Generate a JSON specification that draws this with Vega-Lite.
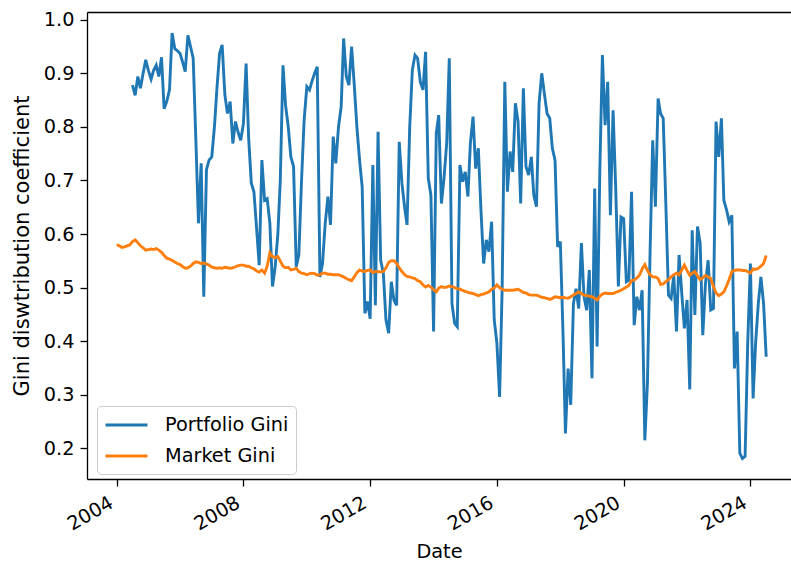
{
"$schema": "https://vega.github.io/schema/vega-lite/v6.json",
"width": 704, "height": 467,
"autosize": {"type": "none"},
"padding": {"left": 87, "top": 12, "right": 0, "bottom": 86},
"background": "white",
"config": {"font": "DejaVu Sans", "view": {"stroke": null}},
"data": {"values": [
{"date":"2004-01-01","Portfolio Gini":null,"Market Gini":0.580},
{"date":"2004-02-01","Portfolio Gini":null,"Market Gini":0.578},
{"date":"2004-03-01","Portfolio Gini":null,"Market Gini":0.575},
{"date":"2004-04-01","Portfolio Gini":null,"Market Gini":0.576},
{"date":"2004-05-01","Portfolio Gini":null,"Market Gini":0.578},
{"date":"2004-06-01","Portfolio Gini":null,"Market Gini":0.580},
{"date":"2004-07-01","Portfolio Gini":0.878,"Market Gini":0.586},
{"date":"2004-08-01","Portfolio Gini":0.859,"Market Gini":0.589},
{"date":"2004-09-01","Portfolio Gini":0.894,"Market Gini":0.584},
{"date":"2004-10-01","Portfolio Gini":0.872,"Market Gini":0.578},
{"date":"2004-11-01","Portfolio Gini":0.900,"Market Gini":0.574},
{"date":"2004-12-01","Portfolio Gini":0.925,"Market Gini":0.570},
{"date":"2005-01-01","Portfolio Gini":0.905,"Market Gini":0.571},
{"date":"2005-02-01","Portfolio Gini":0.889,"Market Gini":0.572},
{"date":"2005-03-01","Portfolio Gini":0.905,"Market Gini":0.571},
{"date":"2005-04-01","Portfolio Gini":0.915,"Market Gini":0.573},
{"date":"2005-05-01","Portfolio Gini":0.894,"Market Gini":0.570},
{"date":"2005-06-01","Portfolio Gini":0.930,"Market Gini":0.566},
{"date":"2005-07-01","Portfolio Gini":0.834,"Market Gini":0.560},
{"date":"2005-08-01","Portfolio Gini":0.848,"Market Gini":0.555},
{"date":"2005-09-01","Portfolio Gini":0.869,"Market Gini":0.553},
{"date":"2005-10-01","Portfolio Gini":0.975,"Market Gini":0.551},
{"date":"2005-11-01","Portfolio Gini":0.946,"Market Gini":0.548},
{"date":"2005-12-01","Portfolio Gini":0.942,"Market Gini":0.545},
{"date":"2006-01-01","Portfolio Gini":0.937,"Market Gini":0.543},
{"date":"2006-02-01","Portfolio Gini":0.920,"Market Gini":0.539},
{"date":"2006-03-01","Portfolio Gini":0.903,"Market Gini":0.536},
{"date":"2006-04-01","Portfolio Gini":0.971,"Market Gini":0.537},
{"date":"2006-05-01","Portfolio Gini":0.950,"Market Gini":0.540},
{"date":"2006-06-01","Portfolio Gini":0.928,"Market Gini":0.545},
{"date":"2006-07-01","Portfolio Gini":0.780,"Market Gini":0.548},
{"date":"2006-08-01","Portfolio Gini":0.620,"Market Gini":0.547},
{"date":"2006-09-01","Portfolio Gini":0.732,"Market Gini":0.545},
{"date":"2006-10-01","Portfolio Gini":0.483,"Market Gini":0.546},
{"date":"2006-11-01","Portfolio Gini":0.720,"Market Gini":0.544},
{"date":"2006-12-01","Portfolio Gini":0.738,"Market Gini":0.542},
{"date":"2007-01-01","Portfolio Gini":0.744,"Market Gini":0.538},
{"date":"2007-02-01","Portfolio Gini":0.800,"Market Gini":0.537},
{"date":"2007-03-01","Portfolio Gini":0.870,"Market Gini":0.536},
{"date":"2007-04-01","Portfolio Gini":0.937,"Market Gini":0.537},
{"date":"2007-05-01","Portfolio Gini":0.953,"Market Gini":0.536},
{"date":"2007-06-01","Portfolio Gini":0.860,"Market Gini":0.538},
{"date":"2007-07-01","Portfolio Gini":0.825,"Market Gini":0.537},
{"date":"2007-08-01","Portfolio Gini":0.847,"Market Gini":0.536},
{"date":"2007-09-01","Portfolio Gini":0.769,"Market Gini":0.537},
{"date":"2007-10-01","Portfolio Gini":0.810,"Market Gini":0.539},
{"date":"2007-11-01","Portfolio Gini":0.790,"Market Gini":0.541},
{"date":"2007-12-01","Portfolio Gini":0.775,"Market Gini":0.542},
{"date":"2008-01-01","Portfolio Gini":0.806,"Market Gini":0.542},
{"date":"2008-02-01","Portfolio Gini":0.918,"Market Gini":0.540},
{"date":"2008-03-01","Portfolio Gini":0.780,"Market Gini":0.540},
{"date":"2008-04-01","Portfolio Gini":0.695,"Market Gini":0.537},
{"date":"2008-05-01","Portfolio Gini":0.679,"Market Gini":0.535},
{"date":"2008-06-01","Portfolio Gini":0.610,"Market Gini":0.531},
{"date":"2008-07-01","Portfolio Gini":0.542,"Market Gini":0.529},
{"date":"2008-08-01","Portfolio Gini":0.738,"Market Gini":0.533},
{"date":"2008-09-01","Portfolio Gini":0.663,"Market Gini":0.527},
{"date":"2008-10-01","Portfolio Gini":0.666,"Market Gini":0.540},
{"date":"2008-11-01","Portfolio Gini":0.620,"Market Gini":0.565},
{"date":"2008-12-01","Portfolio Gini":0.502,"Market Gini":0.558},
{"date":"2009-01-01","Portfolio Gini":0.539,"Market Gini":0.556},
{"date":"2009-02-01","Portfolio Gini":0.600,"Market Gini":0.558},
{"date":"2009-03-01","Portfolio Gini":0.700,"Market Gini":0.550},
{"date":"2009-04-01","Portfolio Gini":0.915,"Market Gini":0.540},
{"date":"2009-05-01","Portfolio Gini":0.840,"Market Gini":0.537},
{"date":"2009-06-01","Portfolio Gini":0.800,"Market Gini":0.538},
{"date":"2009-07-01","Portfolio Gini":0.744,"Market Gini":0.533},
{"date":"2009-08-01","Portfolio Gini":0.726,"Market Gini":0.534},
{"date":"2009-09-01","Portfolio Gini":0.539,"Market Gini":0.536},
{"date":"2009-10-01","Portfolio Gini":0.561,"Market Gini":0.530},
{"date":"2009-11-01","Portfolio Gini":0.700,"Market Gini":0.527},
{"date":"2009-12-01","Portfolio Gini":0.813,"Market Gini":0.526},
{"date":"2010-01-01","Portfolio Gini":0.875,"Market Gini":0.524},
{"date":"2010-02-01","Portfolio Gini":0.869,"Market Gini":0.526},
{"date":"2010-03-01","Portfolio Gini":0.885,"Market Gini":0.527},
{"date":"2010-04-01","Portfolio Gini":0.900,"Market Gini":0.526},
{"date":"2010-05-01","Portfolio Gini":0.912,"Market Gini":0.523},
{"date":"2010-06-01","Portfolio Gini":0.520,"Market Gini":0.524},
{"date":"2010-07-01","Portfolio Gini":0.545,"Market Gini":0.527},
{"date":"2010-08-01","Portfolio Gini":0.620,"Market Gini":0.527},
{"date":"2010-09-01","Portfolio Gini":0.670,"Market Gini":0.525},
{"date":"2010-10-01","Portfolio Gini":0.617,"Market Gini":0.525},
{"date":"2010-11-01","Portfolio Gini":0.782,"Market Gini":0.524},
{"date":"2010-12-01","Portfolio Gini":0.732,"Market Gini":0.524},
{"date":"2011-01-01","Portfolio Gini":0.800,"Market Gini":0.524},
{"date":"2011-02-01","Portfolio Gini":0.838,"Market Gini":0.522},
{"date":"2011-03-01","Portfolio Gini":0.965,"Market Gini":0.520},
{"date":"2011-04-01","Portfolio Gini":0.894,"Market Gini":0.517},
{"date":"2011-05-01","Portfolio Gini":0.878,"Market Gini":0.515},
{"date":"2011-06-01","Portfolio Gini":0.950,"Market Gini":0.513},
{"date":"2011-07-01","Portfolio Gini":0.880,"Market Gini":0.520},
{"date":"2011-08-01","Portfolio Gini":0.800,"Market Gini":0.528},
{"date":"2011-09-01","Portfolio Gini":0.738,"Market Gini":0.533},
{"date":"2011-10-01","Portfolio Gini":0.688,"Market Gini":0.531},
{"date":"2011-11-01","Portfolio Gini":0.452,"Market Gini":0.530},
{"date":"2011-12-01","Portfolio Gini":0.474,"Market Gini":0.532},
{"date":"2012-01-01","Portfolio Gini":0.442,"Market Gini":0.533},
{"date":"2012-02-01","Portfolio Gini":0.729,"Market Gini":0.528},
{"date":"2012-03-01","Portfolio Gini":0.467,"Market Gini":0.530},
{"date":"2012-04-01","Portfolio Gini":0.791,"Market Gini":0.530},
{"date":"2012-05-01","Portfolio Gini":0.551,"Market Gini":0.529},
{"date":"2012-06-01","Portfolio Gini":0.527,"Market Gini":0.530},
{"date":"2012-07-01","Portfolio Gini":0.440,"Market Gini":0.537},
{"date":"2012-08-01","Portfolio Gini":0.415,"Market Gini":0.547},
{"date":"2012-09-01","Portfolio Gini":0.511,"Market Gini":0.550},
{"date":"2012-10-01","Portfolio Gini":0.477,"Market Gini":0.550},
{"date":"2012-11-01","Portfolio Gini":0.467,"Market Gini":0.545},
{"date":"2012-12-01","Portfolio Gini":0.772,"Market Gini":0.537},
{"date":"2013-01-01","Portfolio Gini":0.695,"Market Gini":0.530},
{"date":"2013-02-01","Portfolio Gini":0.650,"Market Gini":0.524},
{"date":"2013-03-01","Portfolio Gini":0.617,"Market Gini":0.521},
{"date":"2013-04-01","Portfolio Gini":0.800,"Market Gini":0.520},
{"date":"2013-05-01","Portfolio Gini":0.906,"Market Gini":0.518},
{"date":"2013-06-01","Portfolio Gini":0.934,"Market Gini":0.517},
{"date":"2013-07-01","Portfolio Gini":0.928,"Market Gini":0.513},
{"date":"2013-08-01","Portfolio Gini":0.884,"Market Gini":0.511},
{"date":"2013-09-01","Portfolio Gini":0.869,"Market Gini":0.505},
{"date":"2013-10-01","Portfolio Gini":0.940,"Market Gini":0.501},
{"date":"2013-11-01","Portfolio Gini":0.704,"Market Gini":0.504},
{"date":"2013-12-01","Portfolio Gini":0.673,"Market Gini":0.501},
{"date":"2014-01-01","Portfolio Gini":0.418,"Market Gini":0.496},
{"date":"2014-02-01","Portfolio Gini":0.788,"Market Gini":0.492},
{"date":"2014-03-01","Portfolio Gini":0.822,"Market Gini":0.499},
{"date":"2014-04-01","Portfolio Gini":0.657,"Market Gini":0.502},
{"date":"2014-05-01","Portfolio Gini":0.704,"Market Gini":0.500},
{"date":"2014-06-01","Portfolio Gini":0.769,"Market Gini":0.501},
{"date":"2014-07-01","Portfolio Gini":0.928,"Market Gini":0.503},
{"date":"2014-08-01","Portfolio Gini":0.470,"Market Gini":0.502},
{"date":"2014-09-01","Portfolio Gini":0.433,"Market Gini":0.500},
{"date":"2014-10-01","Portfolio Gini":0.427,"Market Gini":0.498},
{"date":"2014-11-01","Portfolio Gini":0.729,"Market Gini":0.497},
{"date":"2014-12-01","Portfolio Gini":0.698,"Market Gini":0.495},
{"date":"2015-01-01","Portfolio Gini":0.716,"Market Gini":0.493},
{"date":"2015-02-01","Portfolio Gini":0.670,"Market Gini":0.491},
{"date":"2015-03-01","Portfolio Gini":0.769,"Market Gini":0.490},
{"date":"2015-04-01","Portfolio Gini":0.819,"Market Gini":0.489},
{"date":"2015-05-01","Portfolio Gini":0.722,"Market Gini":0.487},
{"date":"2015-06-01","Portfolio Gini":0.760,"Market Gini":0.485},
{"date":"2015-07-01","Portfolio Gini":0.645,"Market Gini":0.487},
{"date":"2015-08-01","Portfolio Gini":0.545,"Market Gini":0.488},
{"date":"2015-09-01","Portfolio Gini":0.589,"Market Gini":0.490},
{"date":"2015-10-01","Portfolio Gini":0.567,"Market Gini":0.492},
{"date":"2015-11-01","Portfolio Gini":0.623,"Market Gini":0.497},
{"date":"2015-12-01","Portfolio Gini":0.440,"Market Gini":0.499},
{"date":"2016-01-01","Portfolio Gini":0.396,"Market Gini":0.505},
{"date":"2016-02-01","Portfolio Gini":0.296,"Market Gini":0.500},
{"date":"2016-03-01","Portfolio Gini":0.495,"Market Gini":0.497},
{"date":"2016-04-01","Portfolio Gini":0.884,"Market Gini":0.495},
{"date":"2016-05-01","Portfolio Gini":0.679,"Market Gini":0.495},
{"date":"2016-06-01","Portfolio Gini":0.754,"Market Gini":0.495},
{"date":"2016-07-01","Portfolio Gini":0.716,"Market Gini":0.495},
{"date":"2016-08-01","Portfolio Gini":0.844,"Market Gini":0.496},
{"date":"2016-09-01","Portfolio Gini":0.810,"Market Gini":0.497},
{"date":"2016-10-01","Portfolio Gini":0.657,"Market Gini":0.494},
{"date":"2016-11-01","Portfolio Gini":0.872,"Market Gini":0.491},
{"date":"2016-12-01","Portfolio Gini":0.726,"Market Gini":0.490},
{"date":"2017-01-01","Portfolio Gini":0.710,"Market Gini":0.487},
{"date":"2017-02-01","Portfolio Gini":0.744,"Market Gini":0.486},
{"date":"2017-03-01","Portfolio Gini":0.673,"Market Gini":0.486},
{"date":"2017-04-01","Portfolio Gini":0.651,"Market Gini":0.486},
{"date":"2017-05-01","Portfolio Gini":0.844,"Market Gini":0.484},
{"date":"2017-06-01","Portfolio Gini":0.900,"Market Gini":0.482},
{"date":"2017-07-01","Portfolio Gini":0.862,"Market Gini":0.481},
{"date":"2017-08-01","Portfolio Gini":0.825,"Market Gini":0.480},
{"date":"2017-09-01","Portfolio Gini":0.816,"Market Gini":0.478},
{"date":"2017-10-01","Portfolio Gini":0.760,"Market Gini":0.480},
{"date":"2017-11-01","Portfolio Gini":0.738,"Market Gini":0.483},
{"date":"2017-12-01","Portfolio Gini":0.576,"Market Gini":0.482},
{"date":"2018-01-01","Portfolio Gini":0.586,"Market Gini":0.481},
{"date":"2018-02-01","Portfolio Gini":0.415,"Market Gini":0.482},
{"date":"2018-03-01","Portfolio Gini":0.228,"Market Gini":0.481},
{"date":"2018-04-01","Portfolio Gini":0.349,"Market Gini":0.480},
{"date":"2018-05-01","Portfolio Gini":0.281,"Market Gini":0.483},
{"date":"2018-06-01","Portfolio Gini":0.470,"Market Gini":0.486},
{"date":"2018-07-01","Portfolio Gini":0.498,"Market Gini":0.489},
{"date":"2018-08-01","Portfolio Gini":0.461,"Market Gini":0.492},
{"date":"2018-09-01","Portfolio Gini":0.583,"Market Gini":0.489},
{"date":"2018-10-01","Portfolio Gini":0.483,"Market Gini":0.486},
{"date":"2018-11-01","Portfolio Gini":0.458,"Market Gini":0.485},
{"date":"2018-12-01","Portfolio Gini":0.533,"Market Gini":0.484},
{"date":"2019-01-01","Portfolio Gini":0.331,"Market Gini":0.483},
{"date":"2019-02-01","Portfolio Gini":0.685,"Market Gini":0.480},
{"date":"2019-03-01","Portfolio Gini":0.390,"Market Gini":0.477},
{"date":"2019-04-01","Portfolio Gini":0.716,"Market Gini":0.484},
{"date":"2019-05-01","Portfolio Gini":0.934,"Market Gini":0.488},
{"date":"2019-06-01","Portfolio Gini":0.803,"Market Gini":0.490},
{"date":"2019-07-01","Portfolio Gini":0.884,"Market Gini":0.489},
{"date":"2019-08-01","Portfolio Gini":0.635,"Market Gini":0.489},
{"date":"2019-09-01","Portfolio Gini":0.831,"Market Gini":0.489},
{"date":"2019-10-01","Portfolio Gini":0.688,"Market Gini":0.491},
{"date":"2019-11-01","Portfolio Gini":0.502,"Market Gini":0.493},
{"date":"2019-12-01","Portfolio Gini":0.632,"Market Gini":0.495},
{"date":"2020-01-01","Portfolio Gini":0.629,"Market Gini":0.498},
{"date":"2020-02-01","Portfolio Gini":0.511,"Market Gini":0.501},
{"date":"2020-03-01","Portfolio Gini":0.514,"Market Gini":0.504},
{"date":"2020-04-01","Portfolio Gini":0.679,"Market Gini":0.513},
{"date":"2020-05-01","Portfolio Gini":0.430,"Market Gini":0.514},
{"date":"2020-06-01","Portfolio Gini":0.483,"Market Gini":0.518},
{"date":"2020-07-01","Portfolio Gini":0.458,"Market Gini":0.523},
{"date":"2020-08-01","Portfolio Gini":0.495,"Market Gini":0.535},
{"date":"2020-09-01","Portfolio Gini":0.215,"Market Gini":0.543},
{"date":"2020-10-01","Portfolio Gini":0.321,"Market Gini":0.532},
{"date":"2020-11-01","Portfolio Gini":0.570,"Market Gini":0.524},
{"date":"2020-12-01","Portfolio Gini":0.775,"Market Gini":0.520},
{"date":"2021-01-01","Portfolio Gini":0.651,"Market Gini":0.520},
{"date":"2021-02-01","Portfolio Gini":0.853,"Market Gini":0.517},
{"date":"2021-03-01","Portfolio Gini":0.825,"Market Gini":0.506},
{"date":"2021-04-01","Portfolio Gini":0.816,"Market Gini":0.507},
{"date":"2021-05-01","Portfolio Gini":0.657,"Market Gini":0.511},
{"date":"2021-06-01","Portfolio Gini":0.486,"Market Gini":0.515},
{"date":"2021-07-01","Portfolio Gini":0.480,"Market Gini":0.520},
{"date":"2021-08-01","Portfolio Gini":0.523,"Market Gini":0.524},
{"date":"2021-09-01","Portfolio Gini":0.418,"Market Gini":0.527},
{"date":"2021-10-01","Portfolio Gini":0.561,"Market Gini":0.524},
{"date":"2021-11-01","Portfolio Gini":0.489,"Market Gini":0.533},
{"date":"2021-12-01","Portfolio Gini":0.424,"Market Gini":0.542},
{"date":"2022-01-01","Portfolio Gini":0.477,"Market Gini":0.532},
{"date":"2022-02-01","Portfolio Gini":0.310,"Market Gini":0.523},
{"date":"2022-03-01","Portfolio Gini":0.607,"Market Gini":0.527},
{"date":"2022-04-01","Portfolio Gini":0.449,"Market Gini":0.530},
{"date":"2022-05-01","Portfolio Gini":0.614,"Market Gini":0.522},
{"date":"2022-06-01","Portfolio Gini":0.583,"Market Gini":0.515},
{"date":"2022-07-01","Portfolio Gini":0.411,"Market Gini":0.518},
{"date":"2022-08-01","Portfolio Gini":0.508,"Market Gini":0.523},
{"date":"2022-09-01","Portfolio Gini":0.551,"Market Gini":0.520},
{"date":"2022-10-01","Portfolio Gini":0.458,"Market Gini":0.517},
{"date":"2022-11-01","Portfolio Gini":0.461,"Market Gini":0.502},
{"date":"2022-12-01","Portfolio Gini":0.810,"Market Gini":0.490},
{"date":"2023-01-01","Portfolio Gini":0.744,"Market Gini":0.485},
{"date":"2023-02-01","Portfolio Gini":0.816,"Market Gini":0.488},
{"date":"2023-03-01","Portfolio Gini":0.663,"Market Gini":0.492},
{"date":"2023-04-01","Portfolio Gini":0.645,"Market Gini":0.503},
{"date":"2023-05-01","Portfolio Gini":0.623,"Market Gini":0.515},
{"date":"2023-06-01","Portfolio Gini":0.635,"Market Gini":0.530},
{"date":"2023-07-01","Portfolio Gini":0.349,"Market Gini":0.532},
{"date":"2023-08-01","Portfolio Gini":0.418,"Market Gini":0.533},
{"date":"2023-09-01","Portfolio Gini":0.191,"Market Gini":0.533},
{"date":"2023-10-01","Portfolio Gini":0.181,"Market Gini":0.532},
{"date":"2023-11-01","Portfolio Gini":0.185,"Market Gini":0.532},
{"date":"2023-12-01","Portfolio Gini":0.396,"Market Gini":0.530},
{"date":"2024-01-01","Portfolio Gini":0.545,"Market Gini":0.527},
{"date":"2024-02-01","Portfolio Gini":0.293,"Market Gini":0.535},
{"date":"2024-03-01","Portfolio Gini":0.396,"Market Gini":0.534},
{"date":"2024-04-01","Portfolio Gini":0.470,"Market Gini":0.536},
{"date":"2024-05-01","Portfolio Gini":0.520,"Market Gini":0.540},
{"date":"2024-06-01","Portfolio Gini":0.470,"Market Gini":0.545},
{"date":"2024-07-01","Portfolio Gini":0.371,"Market Gini":0.560}
]},
"transform": [{"fold": ["Portfolio Gini", "Market Gini"], "as": ["series", "value"]}],
"encoding": {
  "y": {"field": "value", "type": "quantitative", "title": "Gini diswtribution coefficient",
    "scale": {"domain": [0.1428, 1.0144], "nice": false, "zero": false},
    "axis": {"values": [0.2, 0.3, 0.4, 0.5, 0.6, 0.7, 0.8, 0.9, 1.0], "format": ".1f",
      "labelFontSize": 19.3, "labelColor": "black", "tickColor": "black", "tickSize": 7, "tickWidth": 1.3, "labelPadding": 6,
      "domain": true, "domainColor": "black", "domainWidth": 1.3, "grid": false,
      "titleFontSize": 21, "titleFontWeight": "normal", "titleColor": "black", "titlePadding": 11}},
  "color": {"field": "series", "type": "nominal",
    "scale": {"domain": ["Portfolio Gini", "Market Gini"], "range": ["#1f77b4", "#ff7f0e"]},
    "legend": {"title": null, "orient": "none", "legendX": 10, "legendY": 394, "symbolType": "M-1,0H3", "symbolSize": 441, "symbolStrokeWidth": 2.9,
      "labelFontSize": 19.3, "labelColor": "black", "rowPadding": 8, "padding": 7, "strokeColor": "#cccccc", "fillColor": "white", "cornerRadius": 4, "labelOffset": 37}}
},
"layer": [
  {"transform": [{"filter": "datum.series === 'Portfolio Gini'"}], "mark": {"type": "line", "strokeWidth": 2.9},
   "encoding": {"x": {"field": "date", "type": "temporal", "title": "Date",
    "scale": {"type": "utc", "domain": [{"year": 2003, "month": 1, "date": 24, "utc": true}, {"year": 2025, "month": 4, "date": 13, "utc": true}]},
    "axis": {"values": [{"year": 2004, "utc": true}, {"year": 2008, "utc": true}, {"year": 2012, "utc": true}, {"year": 2016, "utc": true}, {"year": 2020, "utc": true}, {"year": 2024, "utc": true}],
      "format": "%Y", "formatType": "utc", "labelAngle": -30, "labelAlign": "right", "labelBaseline": "top", "labelOffset": -10,
      "labelFontSize": 19.3, "labelColor": "black", "tickColor": "black", "tickSize": 7, "tickWidth": 1.3, "labelPadding": 7,
      "domain": true, "domainColor": "black", "domainWidth": 1.3, "grid": false,
      "titleFontSize": 19.3, "titleFontWeight": "normal", "titleColor": "black", "titlePadding": 8}}}},
  {"transform": [{"filter": "datum.series === 'Market Gini'"}], "mark": {"type": "line", "strokeWidth": 2.9},
   "encoding": {"x": {"field": "date", "type": "temporal", "title": null,
    "scale": {"type": "utc", "domain": [{"year": 2003, "month": 1, "date": 24, "utc": true}, {"year": 2025, "month": 4, "date": 13, "utc": true}]},
    "axis": {"orient": "top", "labels": false, "ticks": false, "grid": false, "domain": true, "domainColor": "black", "domainWidth": 1.3, "title": null}}}}
],
"resolve": {"axis": {"x": "independent"}}
}
